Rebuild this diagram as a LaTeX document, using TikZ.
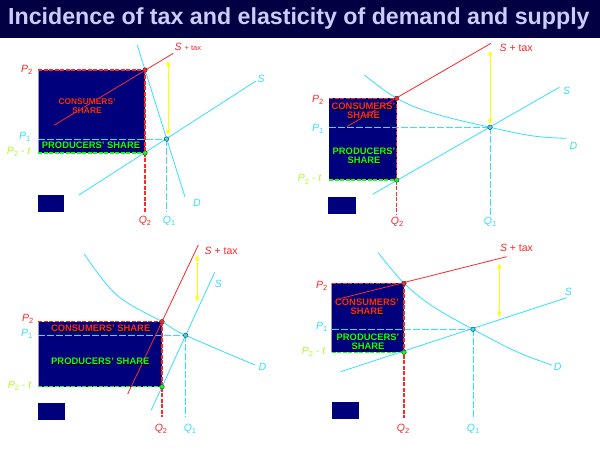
\documentclass[tikz,border=0pt]{standalone}
\usepackage{fontspec}
\setmainfont{Liberation Sans}
\usetikzlibrary{arrows.meta}
\definecolor{barnavy}{RGB}{0,0,66}
\definecolor{titletxt}{RGB}{204,204,255}
\definecolor{boxnavy}{RGB}{0,0,124}
\definecolor{redc}{RGB}{255,40,40}
\definecolor{cyanc}{RGB}{51,224,255}
\definecolor{greenc}{RGB}{20,255,20}
\definecolor{limec}{RGB}{170,255,40}
\definecolor{yellowc}{RGB}{255,255,0}
\definecolor{edgec}{RGB}{150,150,190}
\newcommand{\shd}[1]{\rlap{\kern0.7pt\raisebox{-0.7pt}{\color{black}#1}}#1}
\newcommand{\sub}[2]{#1\raisebox{-2.4pt}{\fontsize{7.5}{8}\selectfont\upshape #2}}
\tikzset{
  box/.style={fill=boxnavy},
  boxedge/.style={edgec, line width=0.8pt},
  supply/.style={cyanc, line width=0.8pt},
  demand/.style={cyanc, line width=0.8pt},
  taxline/.style={redc, line width=0.8pt},
  pdash/.style={line width=1.1pt, dash pattern=on 4pt off 1.5pt},
  cdash/.style={cyanc, line width=1pt, dash pattern=on 7pt off 2pt},
  gap/.style={yellowc, line width=0.8pt, {Stealth[length=6pt,width=4.5pt]}-{Stealth[length=6pt,width=4.5pt]}},
  dot/.style={circle, draw=black!75, line width=0.5pt, inner sep=0pt, minimum size=4.5pt},
  axlab/.style={font=\fontsize{10.5}{12}\selectfont\itshape, inner sep=0.5pt},
  share/.style={font=\fontsize{9.4}{9.6}\selectfont\bfseries, align=center, inner sep=0pt}
}
\begin{document}
\begin{tikzpicture}[x=1pt, y=-1pt]
\useasboundingbox (0,0) rectangle (600,452);
\fill[white] (0,0) rectangle (600,452);
\fill[barnavy] (0,0) rectangle (600,38);
\node[anchor=base west, inner sep=0pt, text=titletxt, font=\fontsize{23.2}{28}\selectfont\bfseries] (title) at (8,25) {Incidence of tax and elasticity of demand and supply};

% top left
\fill[box] (38,70) rectangle (145,153);
\draw[boxedge] (38,70) -- (38,153);
\coordinate (a1) at (145,70);
\coordinate (b1) at (145,153);
\coordinate (e1) at (166.5,139);
\draw[pdash, redc] (38,70) -- (a1);
\draw[pdash, greenc] (38,153) -- (b1);
\draw[cdash] (38,139) -- (e1);
\draw[pdash, redc] (a1) -- (145,212);
\draw[cdash] (e1) -- (166.5,212);
\draw[supply] (79,195) -- (256,81);
\draw[demand] (137.2,45) -- (185,197);
\draw[taxline] (54,125.3) -- (173.3,53.3);
\draw[gap] (168,60.7) -- (168,135);
\node[dot, fill=redc] (pa1) at (a1) {};
\node[dot, fill=greenc] (pb1) at (b1) {};
\node[dot, fill=cyanc] (pe1) at (e1) {};
\node[share, text=redc, font=\fontsize{8.4}{9}\selectfont\bfseries] (cs1) at (87,106) {\shd{CONSUMERS'}\\\shd{SHARE}};
\node[share, text=greenc] (ps1) at (91,146) {\shd{PRODUCERS' SHARE}};
\node[axlab, text=redc, anchor=east] (p21) at (33,70) {\sub{P}{2}};
\node[axlab, text=cyanc, anchor=east] (p11) at (31,137) {\sub{P}{1}};
\node[axlab, text=limec, anchor=east] (pt1) at (31,152) {\sub{P}{2} - t};
\node[axlab, text=redc] (q21) at (145,221) {\sub{Q}{2}};
\node[axlab, text=cyanc] (q11) at (169,221) {\sub{Q}{1}};
\node[axlab, text=redc, anchor=west] (st1) at (174,47.3) {S {\fontsize{7.5}{8}\selectfont\upshape + tax}};
\node[axlab, text=cyanc] (s1) at (261,79.3) {S};
\node[axlab, text=cyanc] (d1) at (197,202.7) {D};
\fill[box] (38,195) rectangle (64,212);

% top right
\fill[box] (329.3,98.3) rectangle (396.7,180);
\coordinate (a2) at (396.7,98.3);
\coordinate (b2) at (396.7,180);
\coordinate (e2) at (490,127.3);
\draw[pdash, redc] (329.3,98.3) -- (a2);
\draw[pdash, greenc] (329.3,180) -- (b2);
\draw[cdash] (329.3,127.3) -- (e2);
\draw[pdash, redc] (a2) -- (396.7,215);
\draw[cdash] (e2) -- (490,215);
\draw[supply] (372.7,194.3) -- (559.3,87.3);
\draw[demand] plot[smooth, tension=0.6] coordinates {(364.3,75) (396.7,98.3) (433.3,113.3) (490,127.3) (533.3,136) (566.7,138.3)};
\draw[taxline] (346.7,126.7) -- (491,43.3);
\draw[gap] (490,50.7) -- (490,124.3);
\node[dot, fill=redc] (pa2) at (a2) {};
\node[dot, fill=greenc] (pb2) at (b2) {};
\node[dot, fill=cyanc] (pe2) at (e2) {};
\node[share, text=redc] (cs2) at (363.5,111.3) {\shd{CONSUMERS'}\\\shd{SHARE}};
\node[share, text=greenc] (ps2) at (364,156) {\shd{PRODUCERS'}\\\shd{SHARE}};
\node[axlab, text=redc, anchor=east] (p22) at (324,100) {\sub{P}{2}};
\node[axlab, text=cyanc, anchor=east] (p12) at (324,129) {\sub{P}{1}};
\node[axlab, text=limec, anchor=east] (pt2) at (322,179.5) {\sub{P}{2} - t};
\node[axlab, text=redc] (q22) at (397,222) {\sub{Q}{2}};
\node[axlab, text=cyanc] (q12) at (490,222) {\sub{Q}{1}};
\node[axlab, text=redc, anchor=west] (st2) at (499,48.3) {S {\upshape + tax}};
\node[axlab, text=cyanc] (s2) at (566.7,90.7) {S};
\node[axlab, text=cyanc] (d2) at (573.3,145.7) {D};
\fill[box] (328,197) rectangle (356,214);

% bottom left
\fill[box] (38,321.7) rectangle (162,386.7);
\draw[boxedge] (38,321.7) -- (38,386.7);
\coordinate (a3) at (162,321.7);
\coordinate (b3) at (162,386.7);
\coordinate (e3) at (185.7,335.3);
\draw[pdash, redc] (38,321.7) -- (a3);
\draw[pdash, greenc] (38,386.7) -- (b3);
\draw[cdash] (38,335.3) -- (e3);
\draw[pdash, redc] (a3) -- (162,417);
\draw[cdash] (e3) -- (185.7,417);
\draw[supply] (151.3,410) -- (214.7,272.3);
\draw[demand] plot[smooth, tension=0.6] coordinates {(84.3,254) (116.7,295) (162,321.7) (185.7,335.3) (255,365)};
\draw[taxline] (127.7,394) -- (198.3,245);
\draw[gap] (197.3,255) -- (197.3,301.7);
\node[dot, fill=redc] (pa3) at (a3) {};
\node[dot, fill=greenc] (pb3) at (b3) {};
\node[dot, fill=cyanc] (pe3) at (e3) {};
\node[share, text=redc] (cs3) at (100.7,328.7) {\shd{CONSUMERS' SHARE}};
\node[share, text=greenc] (ps3) at (100.3,361.7) {\shd{PRODUCERS' SHARE}};
\node[axlab, text=redc, anchor=east] (p23) at (34,319) {\sub{P}{2}};
\node[axlab, text=cyanc, anchor=east] (p13) at (33,334) {\sub{P}{1}};
\node[axlab, text=limec, anchor=east] (pt3) at (32,386) {\sub{P}{2} - t};
\node[axlab, text=redc] (q23) at (161,429) {\sub{Q}{2}};
\node[axlab, text=cyanc] (q13) at (190,429) {\sub{Q}{1}};
\node[axlab, text=redc, anchor=west] (st3) at (204,250.7) {S {\upshape + tax}};
\node[axlab, text=cyanc] (s3) at (218.3,284) {S};
\node[axlab, text=cyanc] (d3) at (262.3,366.7) {D};
\fill[box] (38,402.7) rectangle (65,420);

% bottom right
\fill[box] (331.7,283.3) rectangle (404,352.3);
\draw[boxedge] (331.7,283.3) -- (331.7,352.3);
\coordinate (a4) at (404,283.3);
\coordinate (b4) at (404,352.3);
\coordinate (e4) at (473,329.3);
\draw[pdash, redc] (331.7,283.3) -- (a4);
\draw[pdash, greenc] (331.7,352.3) -- (b4);
\draw[cdash] (331.7,329.3) -- (e4);
\draw[pdash, redc] (a4) -- (404,418);
\draw[cdash] (e4) -- (473,418);
\draw[supply] (340.7,371.7) -- (566.7,297.7);
\draw[demand] plot[smooth, tension=0.6] coordinates {(378.3,252.7) (404,283.3) (433.3,306.7) (473,329.3) (516.7,351.7) (551.7,365)};
\draw[taxline] (337.3,299.3) -- (506.7,256.7);
\draw[gap] (499.3,263.3) -- (499.3,317.3);
\node[dot, fill=redc] (pa4) at (a4) {};
\node[dot, fill=greenc] (pb4) at (b4) {};
\node[dot, fill=cyanc] (pe4) at (e4) {};
\node[share, text=redc] (cs4) at (367,307) {\shd{CONSUMERS'}\\\shd{SHARE}};
\node[share, text=greenc] (ps4) at (368,342) {\shd{PRODUCERS'}\\\shd{SHARE}};
\node[axlab, text=redc, anchor=east] (p24) at (328,286) {\sub{P}{2}};
\node[axlab, text=cyanc, anchor=east] (p14) at (328,327) {\sub{P}{1}};
\node[axlab, text=limec, anchor=east] (pt4) at (326,351.7) {\sub{P}{2} - t};
\node[axlab, text=redc] (q24) at (403,429) {\sub{Q}{2}};
\node[axlab, text=cyanc] (q14) at (473,429) {\sub{Q}{1}};
\node[axlab, text=redc, anchor=west] (st4) at (499.3,248.3) {S {\upshape + tax}};
\node[axlab, text=cyanc] (s4) at (568.3,292.3) {S};
\node[axlab, text=cyanc] (d4) at (557.7,366.7) {D};
\fill[box] (332.3,402.3) rectangle (359,419.3);
\end{tikzpicture}
\end{document}
